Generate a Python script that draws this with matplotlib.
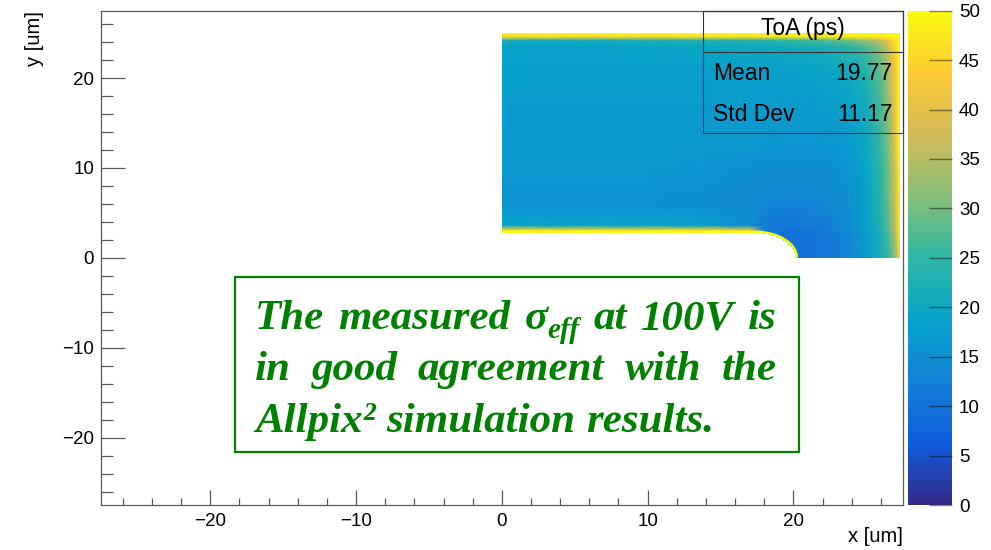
import numpy as np
import matplotlib
matplotlib.use("Agg")
import matplotlib.pyplot as plt
from matplotlib.colors import LinearSegmentedColormap
from matplotlib.patches import Polygon, Rectangle
from matplotlib.lines import Line2D

# ToA map (ps) at a coarse set of grid nodes
x_nodes = [0, 5, 10, 14, 17, 18, 19, 20, 21, 22, 23, 24, 25, 26, 26.6, 27.0, 27.3]
y_nodes = [0, 1.5, 2.75, 3.1, 3.6, 6, 10, 14, 18, 21, 23.5, 24.2, 24.6, 25]
toa = [
    [12, 12, 12, 12, 12, 12, 11, 10, 10, 11, 12, 14, 17, 22, 26, 32, 45],
    [12, 12, 12, 12, 12, 11, 10, 10, 10, 11, 12, 14, 17, 22, 27, 34, 48],
    [50, 50, 50, 50, 50, 11, 10, 10, 10, 11, 12, 14, 17, 22, 28, 36, 50],
    [45, 45, 45, 45, 42, 12, 11, 10, 11, 12, 13, 15, 18, 23, 29, 37, 50],
    [19, 19, 19, 18, 15, 12, 11, 11, 12, 12, 13, 15, 18, 23, 29, 37, 50],
    [15.5, 15.5, 15.5, 15, 14, 13.5, 13, 13, 13, 13.5, 14, 15.5, 18, 24, 30, 38, 50],
    [16.5, 16.5, 16.5, 16, 15.5, 15, 15, 15, 15, 15, 15.5, 16.5, 19, 25, 31, 40, 50],
    [17, 17, 17, 17, 17, 17, 16.5, 16.5, 16.5, 16.5, 17, 18, 20, 26, 32, 42, 50],
    [17.5, 17.5, 17.5, 17.5, 17.5, 17.5, 17.5, 17.5, 17.5, 18, 18.5, 19.5, 21.5, 27, 34, 43, 50],
    [18, 18, 18, 18, 18.5, 18.5, 18.5, 18.5, 19, 19, 20, 21, 23.5, 29, 36, 44, 50],
    [18.5, 18.5, 19, 19.5, 20, 20, 20.5, 21, 21.5, 22, 23, 24.5, 27, 32, 39, 46, 50],
    [21, 21, 22, 23, 24, 24, 25, 25, 26, 27, 28, 30, 33, 37, 43, 47, 50],
    [45, 45, 45, 46, 46, 47, 47, 47, 47, 47, 47, 48, 48, 48, 49, 49, 50],
    [50, 50, 50, 50, 50, 50, 50, 50, 50, 50, 50, 50, 50, 50, 50, 50, 50],
]

# sensor outline: rectangle with a rounded notch at the bottom
sensor_x = (0, 27.3)
sensor_y = (0, 25)
notch_cx = 17.4
notch_r = 2.75

stats_title = "ToA (ps)"
stats_names = ["Mean", "Std Dev"]
stats_values = ["19.77", "11.17"]

note_lines = ["The measured σ_eff at 100V is",
              "in good agreement with the",
              "Allpix² simulation results."]

# ROOT kBird palette
bird_stops = [0.0, 0.125, 0.25, 0.375, 0.5, 0.625, 0.75, 0.875, 1.0]
bird_r = [0.2082, 0.0592, 0.0780, 0.0232, 0.1802, 0.5301, 0.8186, 0.9956, 0.9764]
bird_g = [0.1664, 0.3599, 0.5041, 0.6419, 0.7178, 0.7492, 0.7328, 0.7862, 0.9832]
bird_b = [0.5293, 0.8684, 0.8385, 0.7914, 0.6425, 0.4662, 0.3499, 0.1968, 0.0539]
cmap = LinearSegmentedColormap.from_list(
    "kBird", list(zip(bird_stops, zip(bird_r, bird_g, bird_b))))

W, H = 991, 550
plt.rcParams["font.family"] = "Liberation Sans"
fig = plt.figure(figsize=(W / 100, H / 100), dpi=100)


def fx(px):
    return px / W


def fy(py):
    return 1 - py / H


ax = fig.add_axes([fx(101), fy(505), fx(902.7) - fx(101), fy(10.7) - fy(505)])
ax.set_xlim(-27.5, 27.5)
ax.set_ylim(-27.5, 27.5)

X, Y = np.meshgrid(x_nodes, y_nodes)
mesh = ax.pcolormesh(X, Y, np.array(toa), cmap=cmap, vmin=0, vmax=50,
                     shading="gouraud", rasterized=True)

t = np.linspace(np.pi / 2, 0, 40)
arc_x = notch_cx + notch_r * np.cos(t)
arc_y = notch_r * np.sin(t)
outline = np.column_stack([
    np.concatenate([[sensor_x[0]], arc_x, [sensor_x[1], sensor_x[1], sensor_x[0]]]),
    np.concatenate([[notch_r], arc_y, [sensor_y[0], sensor_y[1], sensor_y[1]]]),
])
clip = Polygon(outline, closed=True, transform=ax.transData)
mesh.set_clip_path(clip)
edge, = ax.plot(np.concatenate([[sensor_x[0]], arc_x]),
                np.concatenate([[notch_r], arc_y]),
                color=cmap(1.0), lw=3.6, solid_capstyle="butt")
edge.set_clip_path(clip)

frame_col = "#5a5a5a"
for s in ax.spines.values():
    s.set_color(frame_col)
    s.set_linewidth(0.9)
ax.set_xticks(range(-20, 21, 10))
ax.set_yticks(range(-20, 21, 10))
ax.set_xticks(np.arange(-26, 27, 2), minor=True)
ax.set_yticks(np.arange(-26, 27, 2), minor=True)
ax.tick_params(which="both", direction="in", colors=frame_col, labelcolor="black",
               labelsize=13.5, width=0.9)
ax.tick_params(axis="x", which="major", length=10.8, pad=6)
ax.tick_params(axis="x", which="minor", length=5.4)
ax.tick_params(axis="y", which="major", length=17.3, pad=5)
ax.tick_params(axis="y", which="minor", length=8.6)

ax.set_xlabel("x [um]", fontsize=14.5, ha="right", va="top")
ax.xaxis.set_label_coords(1.0, -(527 - 505) / 494.3)
ax.set_ylabel("y [um]", fontsize=14.5, loc="top")
ax.yaxis.label.set_va("center")
ax.yaxis.set_label_coords(-(101 - 34) / 801.7, 1.0)

# colour scale
cax = fig.add_axes([fx(908), fy(505), fx(952) - fx(908), fy(10.7) - fy(505)])
cb = fig.colorbar(mesh, cax=cax, ticks=range(0, 51, 5))
cb.outline.set_visible(False)
cax.tick_params(direction="in", length=16.5, width=1.0, colors=(0, 0, 0, 0.45),
                labelcolor="black", labelsize=13.5, pad=5)

# statistics box (no fill)
fig.patches.append(Rectangle((fx(702.7), fy(133.3)), fx(902.7) - fx(702.7),
                             fy(10.7) - fy(133.3), transform=fig.transFigure,
                             fill=False, edgecolor="#333333", lw=0.8))
fig.lines.append(Line2D([fx(702.7), fx(902.7)], [fy(51.7), fy(51.7)],
                        transform=fig.transFigure, color="#333333", lw=0.8))
fig.text(fx(803), fy(29), stats_title, ha="center", va="center", fontsize=16.5)
for i, (n, v) in enumerate(zip(stats_names, stats_values)):
    yy = fy(73 + 41.5 * i)
    fig.text(fx(712.7), yy, n, ha="left", va="center", fontsize=16.5)
    fig.text(fx(892.5), yy, v, ha="right", va="center", fontsize=16.5)

# annotation box
green = "#008000"
fig.patches.append(Rectangle((fx(234.7), fy(452)), fx(799) - fx(234.7),
                             fy(277.3) - fy(452), transform=fig.transFigure,
                             facecolor="white", edgecolor=green, lw=1.6, zorder=2))
note_font = dict(family="Liberation Serif", style="italic", weight="bold",
                 color=green, zorder=3)
fs = 31
left_px, right_px = 255, 777
baselines = [329.3, 380, 431.7]

words_per_line = []
for line in note_lines:
    words = []
    for w in line.split(" "):
        parts = []
        if "_" in w:
            base, sub = w.split("_")
            parts.append((fig.text(0, 0, base, fontsize=fs, va="baseline", **note_font), 0))
            parts.append((fig.text(0, 0, sub, fontsize=fs * 0.68, va="baseline", **note_font), 9))
        else:
            parts.append((fig.text(0, 0, w, fontsize=fs, va="baseline", **note_font), 0))
        words.append(parts)
    words_per_line.append(words)

fig.canvas.draw()
rend = fig.canvas.get_renderer()
for li, words in enumerate(words_per_line):
    widths = [[p.get_window_extent(rend).width for p, _ in parts] for parts in words]
    totals = [sum(ws) for ws in widths]
    if li < len(words_per_line) - 1:
        gap = (right_px - left_px - sum(totals)) / (len(words) - 1)
    else:
        gap = 11
    x = left_px
    for parts, ws in zip(words, widths):
        px = x
        for (p, dy), wpart in zip(parts, ws):
            p.set_position((fx(px), fy(baselines[li] + dy)))
            px += wpart
        x += sum(ws) + gap

fig.savefig("out.png", dpi=100)
